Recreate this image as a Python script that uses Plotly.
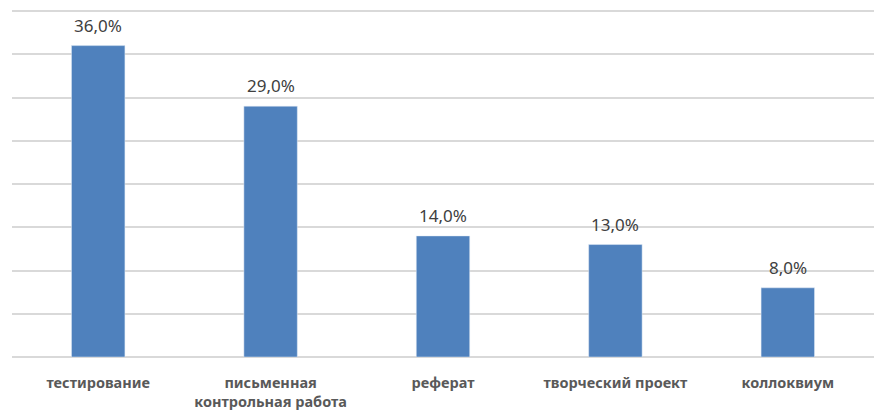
import plotly.graph_objects as go

categories = [
    "тестирование",
    "письменная<br>контрольная работа",
    "реферат",
    "творческий проект",
    "коллоквиум",
]
values = [36.0, 29.0, 14.0, 13.0, 8.0]
labels = [f"{v:.1f}%".replace(".", ",") for v in values]

fig = go.Figure(
    go.Bar(
        x=categories,
        y=values,
        marker=dict(color="#4f81bd"),
    )
)

# value labels above the bars
for cat, val, lab in zip(categories, values, labels):
    fig.add_annotation(
        x=cat, y=val, text=lab,
        showarrow=False, yanchor="bottom", yshift=7,
        font=dict(family="Noto Sans", size=17, color="#404040"),
    )

# page body has an 8px margin, so the figure is a bit smaller than the window
fig.update_layout(
    width=876,
    height=410,
    margin=dict(l=4, r=10, t=0, b=61),
    paper_bgcolor="white",
    plot_bgcolor="white",
    bargap=0.69,
    showlegend=False,
)
fig.update_xaxes(
    showgrid=False,
    showline=False,
    ticks="outside",
    ticklen=13,
    tickcolor="white",
    tickfont=dict(family="Noto Sans", size=14.5, color="#595959", weight="bold"),
)
fig.update_yaxes(
    range=[0, 40.35],
    dtick=5,
    showticklabels=False,
    showgrid=True,
    gridcolor="#d9d9d9",
    gridwidth=1.5,
    zeroline=True,
    zerolinecolor="#d9d9d9",
    zerolinewidth=1.5,
)

fig.write_html("out.html")
